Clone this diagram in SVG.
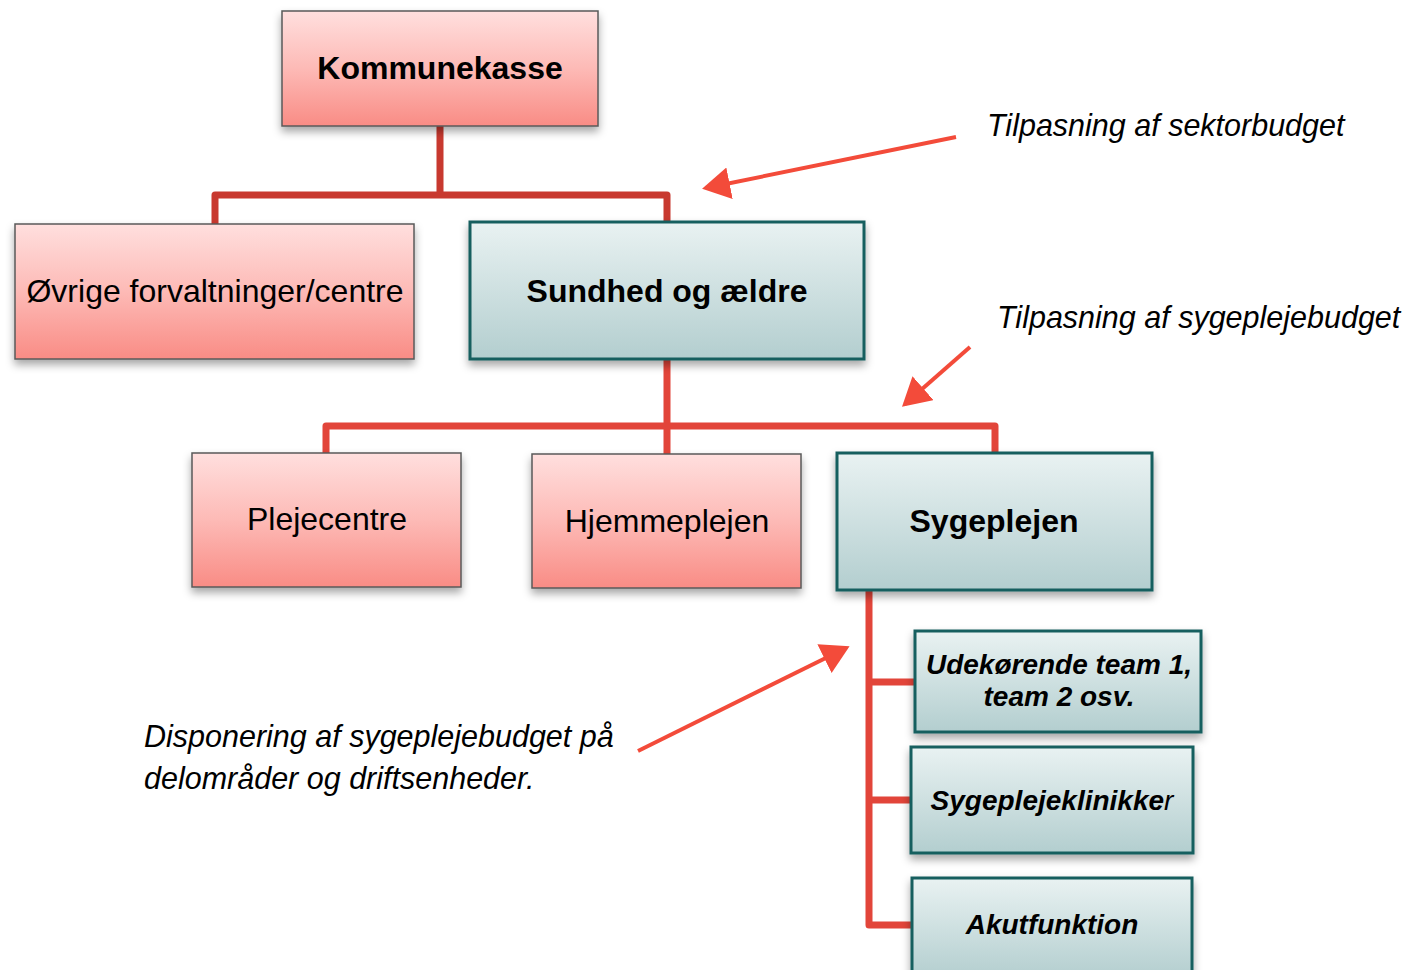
<svg xmlns="http://www.w3.org/2000/svg" width="1409" height="970" viewBox="0 0 1409 970">
<defs>
<linearGradient id="pink" x1="0" y1="0" x2="0" y2="1">
<stop offset="0" stop-color="#ffdfde"/>
<stop offset="0.5" stop-color="#fdbab6"/>
<stop offset="1" stop-color="#f98c85"/>
</linearGradient>
<linearGradient id="teal" x1="0" y1="0" x2="0" y2="1">
<stop offset="0" stop-color="#e9f2f2"/>
<stop offset="1" stop-color="#b3cecf"/>
</linearGradient>
<filter id="sh" x="-10%" y="-10%" width="120%" height="140%">
<feDropShadow dx="0" dy="5" stdDeviation="4" flood-color="#000" flood-opacity="0.35"/>
</filter>
<marker id="ah" markerWidth="8" markerHeight="8" refX="6" refY="4" orient="auto" markerUnits="strokeWidth">
<path d="M0,0 L7,4 L0,8 Z" fill="#f34b3a"/>
</marker>
</defs>
<style>
.p{fill:url(#pink);stroke:#5a5a5a;stroke-width:1.5;filter:url(#sh)}
.t{fill:url(#teal);stroke:#175e5f;stroke-width:3;filter:url(#sh)}
.lab{font-family:"Liberation Sans",Arial,sans-serif;font-size:32px;fill:#000;text-anchor:middle}
.b{font-weight:bold}
.sm{font-family:"Liberation Sans",Arial,sans-serif;font-size:28px;font-weight:bold;font-style:italic;fill:#000;text-anchor:middle}
.ann{font-family:"Liberation Sans",Arial,sans-serif;font-size:30.5px;font-style:italic;fill:#000}
.c1{fill:none;stroke:#c8392f;stroke-width:7;stroke-linejoin:round}
.c2{fill:none;stroke:#e2453a;stroke-width:7;stroke-linejoin:round}
.ar{stroke:#f34b3a;stroke-width:4;fill:none;marker-end:url(#ah)}
</style>
<g id="connectors">
<path class="c1" d="M440,126 V195 M215,224 V195 H667 V222"/>
<path class="c2" d="M667,359 V426 M326,453 V426 H995 V453 M667,426 V454"/>
<path class="c2" d="M869,590 V925 H912 M869,682 H915 M869,800 H911"/>
</g>
<g id="arrows">
<line class="ar" x1="956" y1="137" x2="706" y2="188"/>
<line class="ar" x1="970" y1="347" x2="905" y2="404"/>
<line class="ar" x1="638" y1="751" x2="846" y2="648"/>
</g>
<g id="n-kommunekasse">
<rect class="p" x="282" y="11" width="316" height="115"/>
<text class="lab b" x="440" y="79">Kommunekasse</text>
</g>
<g id="n-ovrige">
<rect class="p" x="15" y="224" width="399" height="135"/>
<text class="lab" x="215" y="302">Øvrige forvaltninger/centre</text>
</g>
<g id="n-sundhed">
<rect class="t" x="470" y="222" width="394" height="137"/>
<text class="lab b" x="667" y="302">Sundhed og ældre</text>
</g>
<g id="n-plejecentre">
<rect class="p" x="192" y="453" width="269" height="134"/>
<text class="lab" x="327" y="530">Plejecentre</text>
</g>
<g id="n-hjemmeplejen">
<rect class="p" x="532" y="454" width="269" height="134"/>
<text class="lab" x="667" y="532">Hjemmeplejen</text>
</g>
<g id="n-sygeplejen">
<rect class="t" x="837" y="453" width="315" height="137"/>
<text class="lab b" x="994" y="532">Sygeplejen</text>
</g>
<g id="n-udekorende">
<rect class="t" x="915" y="631" width="286" height="101"/>
<text class="sm" x="1059" y="674">Udekørende team 1,</text>
<text class="sm" x="1059" y="706">team 2 osv.</text>
</g>
<g id="n-klinikker">
<rect class="t" x="911" y="747" width="282" height="106"/>
<text class="sm" x="1052" y="810">Sygeplejeklinikke<tspan font-weight="normal">r</tspan></text>
</g>
<g id="n-akut">
<rect class="t" x="912" y="878" width="280" height="100"/>
<text class="sm" x="1052" y="934">Akutfunktion</text>
</g>
<g id="annotations">
<text class="ann" x="987" y="136">Tilpasning af sektorbudget</text>
<text class="ann" x="997" y="328">Tilpasning af sygeplejebudget</text>
<text class="ann" x="144" y="747">Disponering af sygeplejebudget på</text>
<text class="ann" x="144" y="789">delområder og driftsenheder.</text>
</g>
</svg>
